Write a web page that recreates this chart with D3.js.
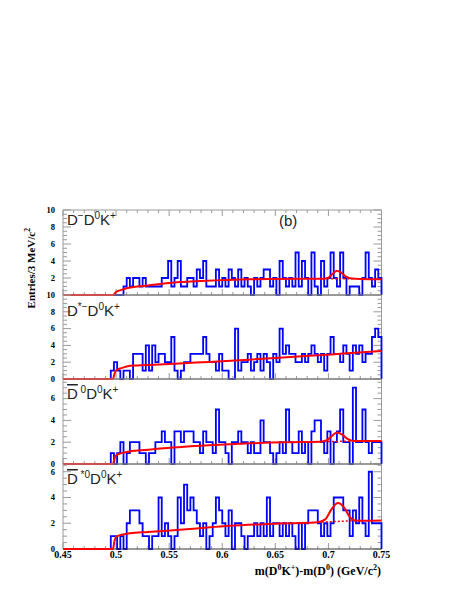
<!DOCTYPE html>
<html>
<head>
<meta charset="utf-8">
<script src="https://cdn.jsdelivr.net/npm/d3@7/dist/d3.min.js"></script>
<style>
  html, body { margin: 0; padding: 0; background: #fff; }
  svg { display: block; }
</style>
</head>
<body>
<svg id="chart" width="457" height="591"></svg>
<script>
// ---------------- DATA ----------------
const xMin = 0.45, xMax = 0.75, binWidth = 0.003;
const xTickValues = [0.45, 0.5, 0.55, 0.6, 0.65, 0.7, 0.75];
const xTickLabels = ["0.45", "0.5", "0.55", "0.6", "0.65", "0.7", "0.75"];

// Entries per 3 MeV bin, 100 bins from 0.45 to 0.75
const countsDmD0K = [
  0,0,0,0,0,0,0,0,0,0, 0,0,0,0,0,0,0,0,0,1,
  2,1,2,2,1,2,1,1,1,1, 1,2,2,4,1,2,4,1,1,2,
  2,1,3,2,4,1,1,1,3,1, 2,1,3,2,1,3,1,2,1,0,
  2,1,2,3,3,1,2,0,4,2, 1,2,1,5,1,4,2,0,5,1,
  0,4,1,2,5,2,1,5,2,0, 1,1,1,0,2,5,2,1,3,2
];
const countsDstmD0K = [
  0,0,0,0,0,0,0,0,0,0, 0,0,0,0,0,1,2,1,0,1,
  1,0,3,3,3,1,4,1,4,2, 3,3,2,2,5,1,0,1,2,2,
  3,3,3,3,5,3,2,2,1,3, 1,1,0,0,6,1,2,2,3,1,
  2,3,1,3,2,0,3,2,6,3, 4,3,3,2,2,3,2,3,4,3,
  2,3,1,3,5,3,3,2,4,3, 1,4,3,4,2,3,3,5,6,5
];
const countsD0bD0K = [
  0,0,0,0,0,0,0,0,0,0, 0,0,0,0,0,1,0,1,2,0,
  1,2,2,2,1,1,0,1,1,2, 2,3,2,2,0,3,3,2,3,3,
  3,2,2,1,3,2,2,1,5,2, 2,1,0,2,2,3,2,2,1,2,
  1,1,4,2,2,1,0,1,2,1, 5,2,1,1,3,1,2,0,3,4,
  4,2,1,3,0,2,3,5,2,2, 0,7,2,2,5,2,1,2,2,2
];
const countsDst0bD0K = [
  0,0,0,0,0,0,0,0,0,0, 0,0,0,0,0,1,1,0,1,0,
  2,3,3,3,2,1,1,0,1,1, 4,1,2,1,0,1,4,2,5,3,
  4,3,2,1,2,0,1,2,4,3, 2,1,3,0,2,2,1,0,1,1,
  2,1,2,1,4,1,2,2,1,2, 1,2,1,0,2,0,2,3,3,3,
  2,1,2,1,2,4,4,4,3,3, 1,3,2,4,2,1,6,2,2,2
];

// Fit curves: [mass difference, entries]
const fitDmD0K = [
  [0.45,0],[0.497,0],[0.5,0.35],[0.505,0.6],[0.51,0.8],[0.52,1.0],[0.53,1.12],[0.545,1.35],
  [0.56,1.52],[0.58,1.65],[0.6,1.75],[0.625,1.85],[0.65,1.88],[0.675,1.9],[0.695,1.91],
  [0.7,2.05],[0.704,2.5],[0.708,2.86],[0.712,2.62],[0.717,2.12],[0.722,1.93],[0.73,1.88],[0.75,1.85]
];
const fitDstmD0K = [
  [0.45,0],[0.497,0],[0.4985,0.6],[0.5,1.0],[0.505,1.3],[0.51,1.5],[0.52,1.62],[0.545,1.75],
  [0.575,1.95],[0.6,2.12],[0.625,2.3],[0.65,2.5],[0.675,2.7],[0.7,2.9],[0.725,3.12],[0.75,3.33]
];
const fitD0bD0K = [
  [0.45,0],[0.497,0],[0.4985,0.5],[0.5,0.8],[0.505,1.0],[0.513,1.15],[0.53,1.3],[0.545,1.45],
  [0.57,1.62],[0.592,1.75],[0.615,1.85],[0.64,1.95],[0.665,2.0],[0.692,2.05],[0.698,2.15],
  [0.703,2.55],[0.708,2.9],[0.713,2.7],[0.718,2.3],[0.723,2.12],[0.73,2.1],[0.75,2.12]
];
const fitDst0bD0K = [
  [0.45,0],[0.497,0],[0.4985,0.6],[0.5,0.97],[0.505,1.1],[0.513,1.23],[0.53,1.32],[0.545,1.4],
  [0.576,1.6],[0.607,1.8],[0.64,1.93],[0.665,2.0],[0.69,2.08],[0.697,2.3],[0.703,3.1],
  [0.709,3.57],[0.715,3.2],[0.72,2.5],[0.725,2.22],[0.735,2.2],[0.75,2.22]
];
// Background-only (dotted) under the peaks
const bgDmD0K = [[0.695,1.91],[0.725,1.9]];
const bgD0bD0K = [[0.692,2.05],[0.725,2.1]];
const bgDst0bD0K = [[0.69,2.08],[0.725,2.2]];

const yTickSets = [[2,4,6,8,10],[0,2,4,6,8,10],[0,2,4,6],[0,2,4,6]];
const yMaxima = [10, 10, 7.8, 6.6];

// ---------------- LAYOUT ----------------
const svg = d3.select("#chart");
const x = d3.scaleLinear().domain([xMin, xMax]).range([63, 381.5]);
const panelBounds = [[210,295],[295,379],[379,464],[464,549]];

const panels = [
  {counts: countsDmD0K, fit: fitDmD0K, bg: bgDmD0K, label: [["D",""],["−","sup"],["D",""],["0","sup"],["K",""],["+","sup"]], ly: 225},
  {counts: countsDstmD0K, fit: fitDstmD0K, bg: null, label: [["D",""],["*−","sup"],["D",""],["0","sup"],["K",""],["+","sup"]], ly: 316},
  {counts: countsD0bD0K, fit: fitD0bD0K, bg: bgD0bD0K, label: [["D","bar"],["\u00a00","sup"],["D",""],["0","sup"],["K",""],["+","sup"]], ly: 399},
  {counts: countsDst0bD0K, fit: fitDst0bD0K, bg: bgDst0bD0K, label: [["D","bar"],["\u00a0*0","sup"],["D",""],["0","sup"],["K",""],["+","sup"]], ly: 484}
];

const serif = "'Liberation Serif','DejaVu Serif',serif";
const sans = "'Liberation Sans',Arial,Helvetica,sans-serif";
const frameColor = "#9a9a9a";

panels.forEach((p, k) => {
  const [top, bottom] = panelBounds[k];
  const y = d3.scaleLinear().domain([0, yMaxima[k]]).range([bottom, top]);
  const g = svg.append("g");

  // frame (left, top, right)
  g.append("path")
    .attr("d", `M${x(xMin)},${bottom}V${top}H${x(xMax)}V${bottom}`)
    .attr("fill", "none").attr("stroke", frameColor).attr("stroke-width", 1);

  // y ticks, major and minor, on both sides pointing inward
  const yMajor = d3.range(0, yMaxima[k] + 1e-9, 2);
  const yMinor = d3.range(0, yMaxima[k] + 1e-9, 0.5);
  yMinor.forEach(v => {
    const isMajor = yMajor.some(m => Math.abs(m - v) < 1e-9);
    const len = isMajor ? 8 : 4;
    g.append("line").attr("x1", x(xMin)).attr("x2", x(xMin) + len)
      .attr("y1", y(v)).attr("y2", y(v)).attr("stroke", frameColor);
    g.append("line").attr("x1", x(xMax)).attr("x2", x(xMax) - len)
      .attr("y1", y(v)).attr("y2", y(v)).attr("stroke", frameColor);
  });
  // x ticks at the bottom of each panel (and top of the first)
  const xMinor = d3.range(0, 31).map(i => xMin + i * 0.01);
  xMinor.forEach((v, i) => {
    const len = (i % 5 === 0) ? 6 : 3;
    g.append("line").attr("x1", x(v)).attr("x2", x(v))
      .attr("y1", bottom).attr("y2", bottom - len).attr("stroke", frameColor);
    if (k === 0) {
      g.append("line").attr("x1", x(v)).attr("x2", x(v))
        .attr("y1", top).attr("y2", top + len).attr("stroke", frameColor);
    }
  });

  // y tick labels
  yTickSets[k].forEach(v => {
    g.append("text").attr("x", 55).attr("y", y(v)).attr("dy", "0.33em")
      .attr("text-anchor", "end").attr("font-family", serif).attr("font-weight", "bold")
      .attr("font-size", 8.5).attr("fill", "#000").text(v);
  });

  // histogram outline
  const pts = [[xMin, 0]];
  p.counts.forEach((c, i) => {
    const x0 = xMin + i * binWidth, x1 = xMin + (i + 1) * binWidth;
    pts.push([x0, c], [x1, c]);
  });
  pts.push([xMax, 0]);
  const line = d3.line().x(d => x(d[0])).y(d => y(d[1]));
  g.append("path").attr("d", line(pts)).attr("fill", "none")
    .attr("stroke", "#0000ff").attr("stroke-width", 1.8).attr("stroke-linejoin", "miter");

  // bottom axis line
  g.append("line").attr("x1", x(xMin)).attr("x2", x(xMax)).attr("y1", bottom).attr("y2", bottom)
    .attr("stroke", "#333").attr("stroke-width", 1);

  // background dotted
  if (p.bg) {
    g.append("path").attr("d", line(p.bg)).attr("fill", "none")
      .attr("stroke", "#ff0000").attr("stroke-width", 1.5).attr("stroke-dasharray", "2,2");
  }
  // fit curve
  const fitLine = d3.line().x(d => x(d[0])).y(d => y(d[1])).curve(d3.curveMonotoneX);
  g.append("path").attr("d", fitLine(p.fit)).attr("fill", "none")
    .attr("stroke", "#ff0000").attr("stroke-width", 2);

  // panel label
  const t = g.append("text").attr("x", 67).attr("y", p.ly)
    .attr("font-family", sans).attr("font-size", 15).attr("fill", "#222");
  p.label.forEach(([s, kind]) => {
    if (kind === "sup") {
      t.append("tspan").attr("font-size", 10).attr("baseline-shift", 6).text(s);
    } else if (kind === "bar") {
      t.append("tspan").style("text-decoration", "overline").text(s);
    } else {
      t.append("tspan").text(s);
    }
  });
});

// (b)
svg.append("text").attr("x", 279).attr("y", 226).attr("font-family", sans)
  .attr("font-size", 15).attr("fill", "#222").text("(b)");

// x tick labels
xTickValues.forEach((v, i) => {
  svg.append("text").attr("x", x(v)).attr("y", 558).attr("text-anchor", "middle")
    .attr("font-family", serif).attr("font-weight", "bold").attr("font-size", 10)
    .text(xTickLabels[i]);
});

// x title
const xt = svg.append("text").attr("x", 381).attr("y", 575).attr("text-anchor", "end")
  .attr("font-family", serif).attr("font-weight", "bold").attr("font-size", 12);
[["m(D",""],["0","sup"],["K",""],["+","sup"],[")-m(D",""],["0","sup"],[") (GeV/c",""],["2","sup"],[")",""]]
  .forEach(([s, kind]) => {
    if (kind === "sup") {
      xt.append("tspan").attr("font-size", 8).attr("baseline-shift", 5).text(s);
    } else xt.append("tspan").text(s);
  });

// y title
const yt = svg.append("text").attr("transform", "translate(35,228) rotate(-90)")
  .attr("text-anchor", "end").attr("font-family", serif).attr("font-weight", "bold")
  .attr("font-size", 11);
yt.append("tspan").text("Entries/3 MeV/c");
yt.append("tspan").attr("font-size", 7.5).attr("baseline-shift", 5).text("2");
</script>
</body>
</html>
